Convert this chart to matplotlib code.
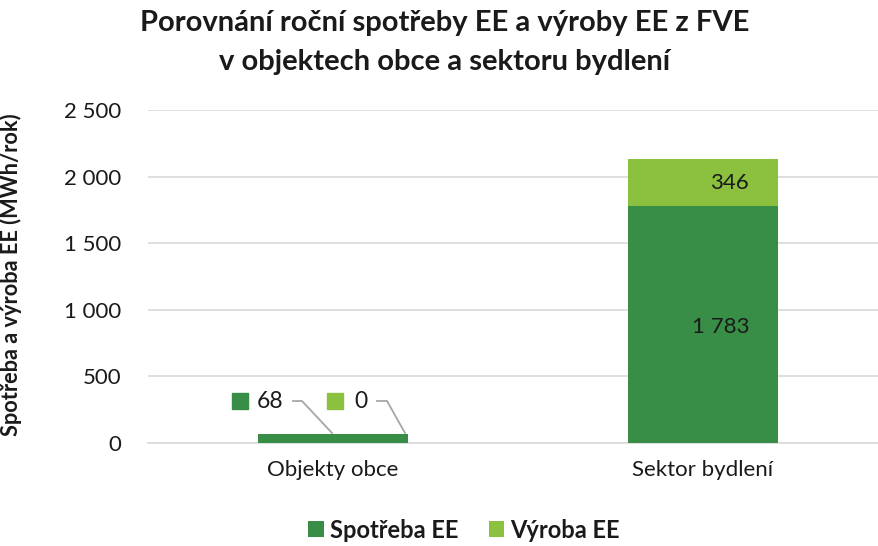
import matplotlib
matplotlib.use("Agg")
import matplotlib.pyplot as plt
from matplotlib.patches import Rectangle

plt.rcParams['font.family'] = ['Lato', 'DejaVu Sans']

categories = ["Objekty obce", "Sektor bydlení"]
spotreba = [68, 1783]
vyroba = [0, 346]
series_names = ["Spotřeba EE", "Výroba EE"]
yticks = [0, 500, 1000, 1500, 2000, 2500]

c_dark = "#388E46"
c_light = "#8BC13F"
txt_col = "#1a1a1a"

def fmt(v):
    return f"{v:,}".replace(",", " ")

W, H = 879, 546
fig = plt.figure(figsize=(W/100, H/100), dpi=100)
ax = fig.add_axes([148/W, 1-443/H, (W-148)/W, (443-110)/H])

x = list(range(len(categories)))
b1 = ax.bar(x, spotreba, width=0.405, color=c_dark, label=series_names[0], zorder=3)
b2 = ax.bar(x, vyroba, width=0.405, bottom=spotreba, color=c_light, label=series_names[1], zorder=3)

ax.set_xlim(-0.5, (W-333)/370)
ax.set_ylim(0, 2500)
ax.set_yticks(yticks)
ax.set_yticklabels([fmt(v) for v in yticks], fontsize=16, color=txt_col)
ax.set_xticks(x)
ax.set_xticklabels(categories, fontsize=16, color=txt_col)
ax.tick_params(axis='x', length=0, pad=12)
ax.tick_params(axis='y', length=0, pad=19)
ax.grid(axis='y', color="#D9D9D9", linewidth=1.2, zorder=0)
for s in ["top", "right", "left"]:
    ax.spines[s].set_visible(False)
ax.spines["bottom"].set_color("#D9D9D9")
ax.spines["bottom"].set_linewidth(1.2)

ax.set_ylabel("Spotřeba a výroba EE (MWh/rok)", fontsize=15.7, fontweight='bold', color=txt_col)
ax.yaxis.set_label_coords(-(148 - 22) / (W - 148), 0.505)

fig.canvas.draw()

def px2data(px, py):
    inv = ax.transData.inverted()
    return inv.transform((px, H - py))

# Data labels for Sektor bydlení
lx, ly = px2data(749, 327)
ax.text(lx, ly, fmt(spotreba[1]), fontsize=16, ha='right', va='center', color=txt_col, zorder=5)
lx, ly = px2data(749, 183)
ax.text(lx, ly, fmt(vyroba[1]), fontsize=16, ha='right', va='center', color=txt_col, zorder=5)

# Callouts for Objekty obce
callouts = [
    (spotreba[0], c_dark, (240, 401), (270, 401), (293, 401), (302, 401), (332, 433)),
    (vyroba[0], c_light, (335, 401), (361, 401), (377, 401), (387, 401), (405, 433)),
]
for val, col, keyp, txtp, l0, l1, l2 in callouts:
    fig.patches.append(Rectangle((keyp[0]/W - 8/W, 1 - keyp[1]/H - 8/H), 16/W, 16/H,
                                 transform=fig.transFigure, color=col, zorder=6))
    tx, ty = px2data(*txtp)
    ax.text(tx, ty, fmt(val), fontsize=16.5, ha='center', va='center', color=txt_col, zorder=5)
    pts = [px2data(*l0), px2data(*l1), px2data(*l2)]
    ax.plot([p[0] for p in pts], [p[1] for p in pts], color="#A6A6A6", linewidth=1.3,
            zorder=4, clip_on=False)

tcx = 0.5 * (137 + 752) / W
fig.text(tcx, 1 - 23 / H, "Porovnání roční spotřeby EE a výroby EE z FVE",
         fontsize=21, fontweight='bold', ha='center', va='center', color=txt_col)
fig.text(tcx, 1 - 62 / H, "v objektech obce a sektoru bydlení",
         fontsize=21, fontweight='bold', ha='center', va='center', color=txt_col)

leg = fig.legend(handles=[b1, b2], labels=series_names, loc='center', bbox_to_anchor=(464/W, 1 - 530/H),
                 ncol=2, frameon=False, prop={'size': 17, 'weight': 'bold'},
                 handlelength=0.65, handleheight=0.65, handletextpad=0.25, columnspacing=1.3)
for t in leg.get_texts():
    t.set_color(txt_col)

fig.savefig("out.png", dpi=100)
